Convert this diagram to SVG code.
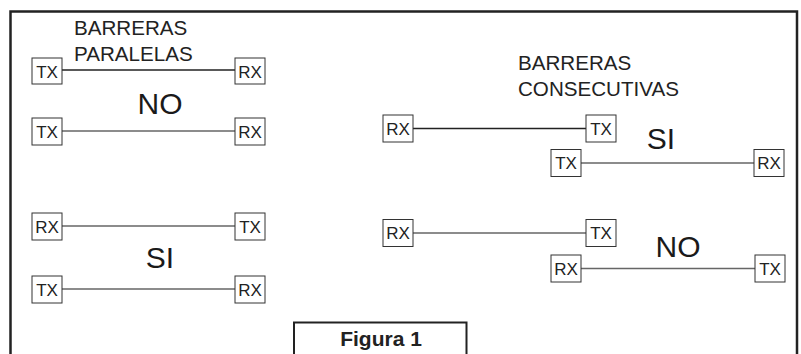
<svg xmlns="http://www.w3.org/2000/svg" width="801" height="354" viewBox="0 0 801 354">
<style>
.box{fill:#fff;stroke:#333;stroke-width:1}
.lbl{font-family:"Liberation Sans",Arial,sans-serif;font-size:17px;fill:#222;text-anchor:middle}
.big{font-family:"Liberation Sans",Arial,sans-serif;font-size:30px;fill:#1a1a1a;text-anchor:middle}
.ttl{font-family:"Liberation Sans",Arial,sans-serif;font-size:20.6px;fill:#222}
.wire{stroke:#666;stroke-width:1.5;fill:none}
.wire.dark{stroke:#222}
</style>
<rect width="801" height="354" fill="#fff"/>
<path id="frame" d="M10.5,356 V11.5 H797 V356" fill="none" stroke="#222" stroke-width="2.5"/>

<g id="connectors">
<line class="wire dark" x1="62" y1="70" x2="235" y2="70"/>
<line class="wire" x1="62" y1="131" x2="235" y2="131"/>
<line class="wire" x1="62" y1="226" x2="235" y2="226"/>
<line class="wire" x1="62" y1="289" x2="235" y2="289"/>
<line class="wire dark" x1="413" y1="128.5" x2="586" y2="128.5"/>
<line class="wire" x1="581" y1="163" x2="754" y2="163"/>
<line class="wire" x1="413" y1="233" x2="586" y2="233"/>
<line class="wire" x1="581" y1="268.5" x2="755" y2="268.5"/>
</g>

<g id="title-paralelas">
<text class="ttl" x="74" y="35">BARRERAS</text>
<text class="ttl" x="74" y="61">PARALELAS</text>
</g>
<g id="title-consecutivas">
<text class="ttl" x="518" y="69.5">BARRERAS</text>
<text class="ttl" x="518" y="95.5">CONSECUTIVAS</text>
</g>

<g id="n-l1-tx"><rect class="box" x="32" y="58" width="30" height="26"/><text class="lbl" x="47" y="77.5">TX</text></g>
<g id="n-l1-rx"><rect class="box" x="235" y="58" width="30" height="26"/><text class="lbl" x="250" y="77.5">RX</text></g>
<g id="n-l2-tx"><rect class="box" x="32" y="118" width="30" height="27"/><text class="lbl" x="47" y="137.5">TX</text></g>
<g id="n-l2-rx"><rect class="box" x="235" y="118" width="30" height="27"/><text class="lbl" x="250" y="137.5">RX</text></g>
<g id="n-l3-rx"><rect class="box" x="32" y="213" width="30" height="27"/><text class="lbl" x="47" y="232.5">RX</text></g>
<g id="n-l3-tx"><rect class="box" x="235" y="213" width="30" height="27"/><text class="lbl" x="250" y="232.5">TX</text></g>
<g id="n-l4-tx"><rect class="box" x="32" y="276" width="30" height="27"/><text class="lbl" x="47" y="295.5">TX</text></g>
<g id="n-l4-rx"><rect class="box" x="235" y="276" width="30" height="27"/><text class="lbl" x="250" y="295.5">RX</text></g>

<g id="n-rA-rx"><rect class="box" x="383" y="115" width="30" height="27"/><text class="lbl" x="398" y="134.5">RX</text></g>
<g id="n-rA-tx"><rect class="box" x="586" y="115" width="30" height="27"/><text class="lbl" x="601" y="134.5">TX</text></g>
<g id="n-rB-tx"><rect class="box" x="551" y="149.5" width="30" height="27"/><text class="lbl" x="566" y="169">TX</text></g>
<g id="n-rB-rx"><rect class="box" x="754" y="149.5" width="30" height="27"/><text class="lbl" x="769" y="169">RX</text></g>
<g id="n-rC-rx"><rect class="box" x="383" y="219.5" width="30" height="27"/><text class="lbl" x="398" y="239">RX</text></g>
<g id="n-rC-tx"><rect class="box" x="586" y="219.5" width="30" height="27"/><text class="lbl" x="601" y="239">TX</text></g>
<g id="n-rD-rx"><rect class="box" x="551" y="255" width="30" height="27"/><text class="lbl" x="566" y="274.5">RX</text></g>
<g id="n-rD-tx"><rect class="box" x="755" y="255" width="30" height="27"/><text class="lbl" x="770" y="274.5">TX</text></g>

<g id="verdicts">
<text class="big" x="160" y="114">NO</text>
<text class="big" x="160" y="268">SI</text>
<text class="big" x="661" y="149">SI</text>
<text class="big" x="678" y="257">NO</text>
</g>

<g id="caption">
<path d="M294,356 V322.5 H466.5 V356" fill="#fff" stroke="#222" stroke-width="2"/>
<text x="381" y="345.5" font-family="'Liberation Sans',Arial,sans-serif" font-size="21" font-weight="bold" fill="#222" text-anchor="middle">Figura 1</text>
</g>
</svg>
